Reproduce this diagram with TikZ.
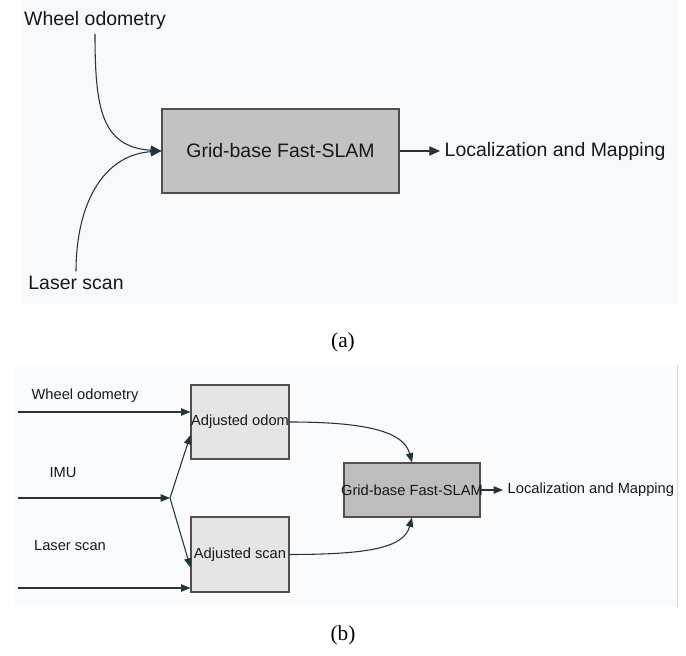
\documentclass[tikz,border=0pt]{standalone}
\usepackage{fontspec}
\setmainfont{Liberation Sans}
\newfontfamily\capfont{Liberation Serif}
\usetikzlibrary{arrows.meta,calc}

\definecolor{bga}{HTML}{F8F9FB}
\definecolor{bgb}{HTML}{FAFBFC}
\definecolor{linec}{HTML}{26333A}
\definecolor{boxline}{HTML}{554D4D}
\definecolor{txt}{HTML}{15191C}

\tikzset{
    bigtxt/.style={font=\fontsize{14.6}{17}\selectfont, text=txt},
    smalltxt/.style={font=\fontsize{11}{13}\selectfont, text=txt},
    captxt/.style={font=\capfont\fontsize{16}{18}\selectfont},
    arra/.style={draw=linec, line width=0.8pt, -{Triangle[length=8pt, width=7pt]}},
    arrb/.style={draw=linec, line width=0.8pt, -{Triangle[length=7pt, width=5.5pt]}},
    slambox/.style={draw=boxline, line width=0.8pt, inner sep=0pt},
}

\begin{document}
\begin{tikzpicture}[x=0.75pt, y=0.75pt]
    \useasboundingbox (0, 0) rectangle (686, 656);
    % backgrounds
    \fill[bga] (22, 352) rectangle (678, 656);
    \fill[bgb] (15, 49) rectangle (677, 291);
    \draw[black!15, line width=0.6pt] (677, 49) -- (677, 291);

    % (a)
    \node[bigtxt] (odoma) at (95, 636) {Wheel odometry};
    \node[bigtxt] (lasera) at (76, 373) {Laser scan};
    \node[slambox, fill=black!24, minimum width=177.75pt, minimum height=63pt] (slama) at (280.5, 505) {};
    \node[bigtxt] at (slama) {Grid-base Fast-SLAM};
    \node[bigtxt, anchor=west] (loca) at (440, 505) {Localization and Mapping};
    \draw[arra] (odoma.south) .. controls +(0, -75) and +(-60, 4) .. (slama.west);
    \draw[arra] (lasera.north) .. controls +(0, 65) and +(-60, -4) .. (slama.west);
    \draw[arra] (slama.east) -- (loca.west);
    \node[captxt] (capa) at (343, 314) {(a)};

    % (b)
    \node[smalltxt] (odomb) at (85, 260) {Wheel odometry};
    \node[smalltxt] (imu) at (63, 183) {IMU};
    \node[smalltxt] (laserb) at (70, 110) {Laser scan};
    \node[slambox, fill=black!10, minimum width=73.5pt, minimum height=55.5pt] (adjodom) at (240, 234) {};
    \node[smalltxt] at (adjodom) {Adjusted odom};
    \node[slambox, fill=black!10, minimum width=73.5pt, minimum height=56.25pt] (adjscan) at (240, 101.5) {};
    \node[smalltxt] at (adjscan) {Adjusted scan};
    \node[slambox, fill=black!26, minimum width=102pt, minimum height=40.5pt] (slamb) at (412, 166) {};
    \node[smalltxt] at (slamb) {Grid-base Fast-SLAM};
    \node[smalltxt, anchor=west] (locb) at (503, 166) {Localization and Mapping};

    \coordinate (odomin) at (18, 244);
    \coordinate (imuin) at (18, 158);
    \coordinate (laserin) at (18, 68);
    \coordinate (join) at (170, 158);
    \draw[arrb] (odomin) -- (odomin -| adjodom.west);
    \draw[arrb] (laserin) -- (laserin -| adjscan.west);
    \draw[arrb] (imuin) -- (join);
    \draw[arrb] (join) -- ($(adjodom.west) + (0, -13)$);
    \draw[arrb] (join) -- ($(adjscan.west) + (0, -13)$);
    \draw[arrb] (adjodom.east) .. controls +(80, 0) and +(-8, 30) .. (slamb.north);
    \draw[arrb] (adjscan.east) .. controls +(80, 0) and +(-8, -30) .. (slamb.south);
    \draw[arrb] (slamb.east) -- (locb.west);
    \node[captxt] (capb) at (343, 21) {(b)};
\end{tikzpicture}
\end{document}
